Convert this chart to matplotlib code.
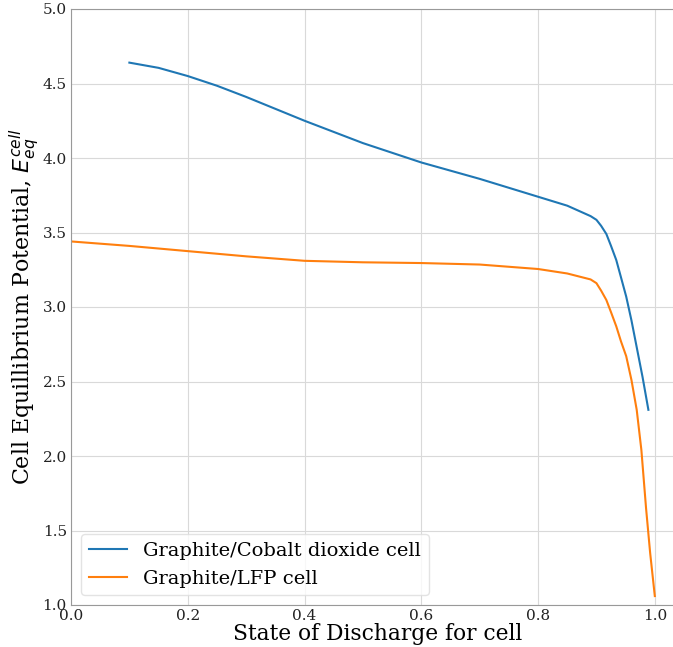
import matplotlib
matplotlib.use("Agg")
import matplotlib.pyplot as plt

# Graphite/Cobalt dioxide cell
sod_co = [0.10, 0.15, 0.20, 0.25, 0.30, 0.40, 0.50, 0.60, 0.70, 0.80, 0.85, 0.89, 0.90,
          0.908, 0.917, 0.925, 0.934, 0.942, 0.951, 0.960, 0.969, 0.979, 0.989]
e_co = [4.64, 4.605, 4.55, 4.485, 4.41, 4.25, 4.10, 3.97, 3.86, 3.74, 3.68, 3.61, 3.585,
        3.545, 3.49, 3.41, 3.315, 3.20, 3.07, 2.91, 2.73, 2.53, 2.31]

# Graphite/LFP cell
sod_lfp = [0.0, 0.1, 0.2, 0.3, 0.4, 0.5, 0.6, 0.7, 0.8, 0.85, 0.89, 0.90,
           0.908, 0.917, 0.925, 0.934, 0.942, 0.951, 0.960, 0.969, 0.977, 0.985, 0.992, 1.0]
e_lfp = [3.44, 3.41, 3.375, 3.34, 3.31, 3.30, 3.295, 3.285, 3.255, 3.225, 3.185, 3.16,
         3.11, 3.047, 2.965, 2.87, 2.77, 2.67, 2.51, 2.31, 2.04, 1.65, 1.35, 1.06]

xticks = [0.0, 0.2, 0.4, 0.6, 0.8, 1.0]
yticks = [1.0, 1.5, 2.0, 2.5, 3.0, 3.5, 4.0, 4.5, 5.0]

plt.rcParams['font.family'] = 'DejaVu Serif'
plt.rcParams['mathtext.fontset'] = 'dejavusans'

fig = plt.figure(figsize=(6.73, 6.47), dpi=100)
ax = fig.add_axes([71/673, 42/647, 613/673, 596/647])

ax.plot(sod_co, e_co, color='#1f77b4', lw=1.5, label='Graphite/Cobalt dioxide cell')
ax.plot(sod_lfp, e_lfp, color='#ff7f0e', lw=1.5, label='Graphite/LFP cell')

ax.set_xlim(0, 1.05)
ax.set_ylim(1.0, 5.0)
ax.set_xticks(xticks)
ax.set_yticks(yticks)
ax.grid(True, color='#d9d9d9', lw=0.8)
ax.set_axisbelow(True)
for s in ax.spines.values():
    s.set_color('#999999')
ax.spines['right'].set_visible(False)
ax.tick_params(length=0, pad=3, labelcolor='#222222', labelsize=11)

ax.set_xlabel('State of Discharge for cell', fontsize=15.7, labelpad=0)
ax.set_ylabel(r'Cell Equillibrium Potential, $E_{eq}^{cell}$', fontsize=15.9, labelpad=0.5)
ax.legend(loc='lower left', fontsize=14, framealpha=0.8, edgecolor='#dddddd')

fig.savefig('out.png', dpi=100)
